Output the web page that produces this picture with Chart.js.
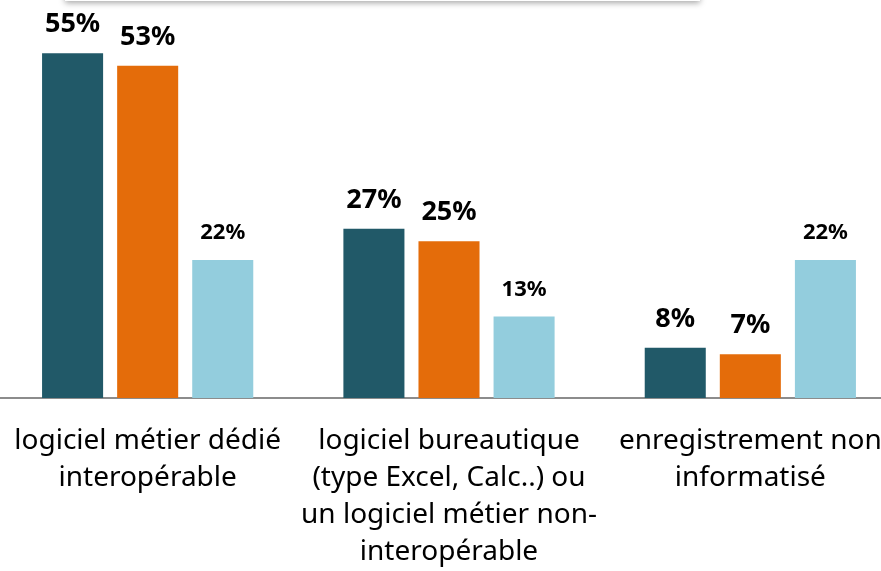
<!DOCTYPE html>
<html>
<head>
<meta charset="utf-8">
<script src="https://cdn.jsdelivr.net/npm/chart.js@4"></script>
<style>
  html, body { margin: 0; padding: 0; background: #ffffff; overflow: hidden; }
  body { width: 881px; height: 571px; position: relative; }
  #wrap { position: absolute; left: -3px; top: 0; width: 904px; height: 571px; }
  #legendbox { position: absolute; left: 65px; top: -40px; width: 635px; height: 41px;
    background: #fff; box-shadow: 0 2px 6px rgba(0,0,0,0.35); z-index: 2; }
</style>
</head>
<body>
<div id="legendbox"></div>
<div id="wrap"><canvas id="c"></canvas></div>
<script>
const categories = [
  ["logiciel métier dédié", "interopérable"],
  ["logiciel bureautique", "(type Excel, Calc..) ou", "un logiciel métier non-", "interopérable"],
  ["enregistrement non", "informatisé"]
];
const seriesNames = ["Série 1", "Série 2", "Série 3"];
const series1 = [55, 27, 8];
const series2 = [53, 25, 7];
const series3 = [22, 13, 22];
const colors = ["#215968", "#E46C0A", "#93CDDD"];

const FONT = "'Noto Sans', 'Open Sans', sans-serif";

const valueLabels = {
  id: 'valueLabels',
  afterDatasetsDraw(chart) {
    const ctx = chart.ctx;
    ctx.save();
    ctx.fillStyle = '#000';
    ctx.textAlign = 'center';
    ctx.textBaseline = 'alphabetic';
    chart.data.datasets.forEach((ds, di) => {
      const meta = chart.getDatasetMeta(di);
      const big = di < 2;
      ctx.font = 'bold ' + (big ? 27 : 22) + 'px ' + FONT;
      meta.data.forEach((bar, i) => {
        ctx.fillText(ds.data[i] + '%', bar.x, bar.y - (big ? 21 : 21));
      });
    });
    ctx.restore();
  }
};

new Chart(document.getElementById('c'), {
  type: 'bar',
  data: {
    labels: categories,
    datasets: [series1, series2, series3].map((d, i) => ({
      label: seriesNames[i],
      data: d,
      backgroundColor: colors[i],
      borderWidth: 0,
      categoryPercentage: 0.7475,
      barPercentage: 0.813
    }))
  },
  options: {
    responsive: true,
    maintainAspectRatio: false,
    animation: false,
    layout: { padding: 0 },
    plugins: { legend: { display: false }, tooltip: { enabled: false } },
    scales: {
      x: {
        grid: { display: false, drawTicks: false },
        border: { display: true, color: '#8c8c8c', width: 2 },
        ticks: {
          color: '#000',
          padding: 24,
          maxRotation: 0,
          autoSkip: false,
          font: { family: FONT, size: 28, lineHeight: 1.33 }
        },
        afterFit(scale) {
          scale.height = 173;
          scale.paddingLeft = 0;
          scale.paddingRight = 0;
        }
      },
      y: {
        display: false,
        min: 0,
        max: 63.5
      }
    }
  },
  plugins: [valueLabels]
});
</script>
</body>
</html>
